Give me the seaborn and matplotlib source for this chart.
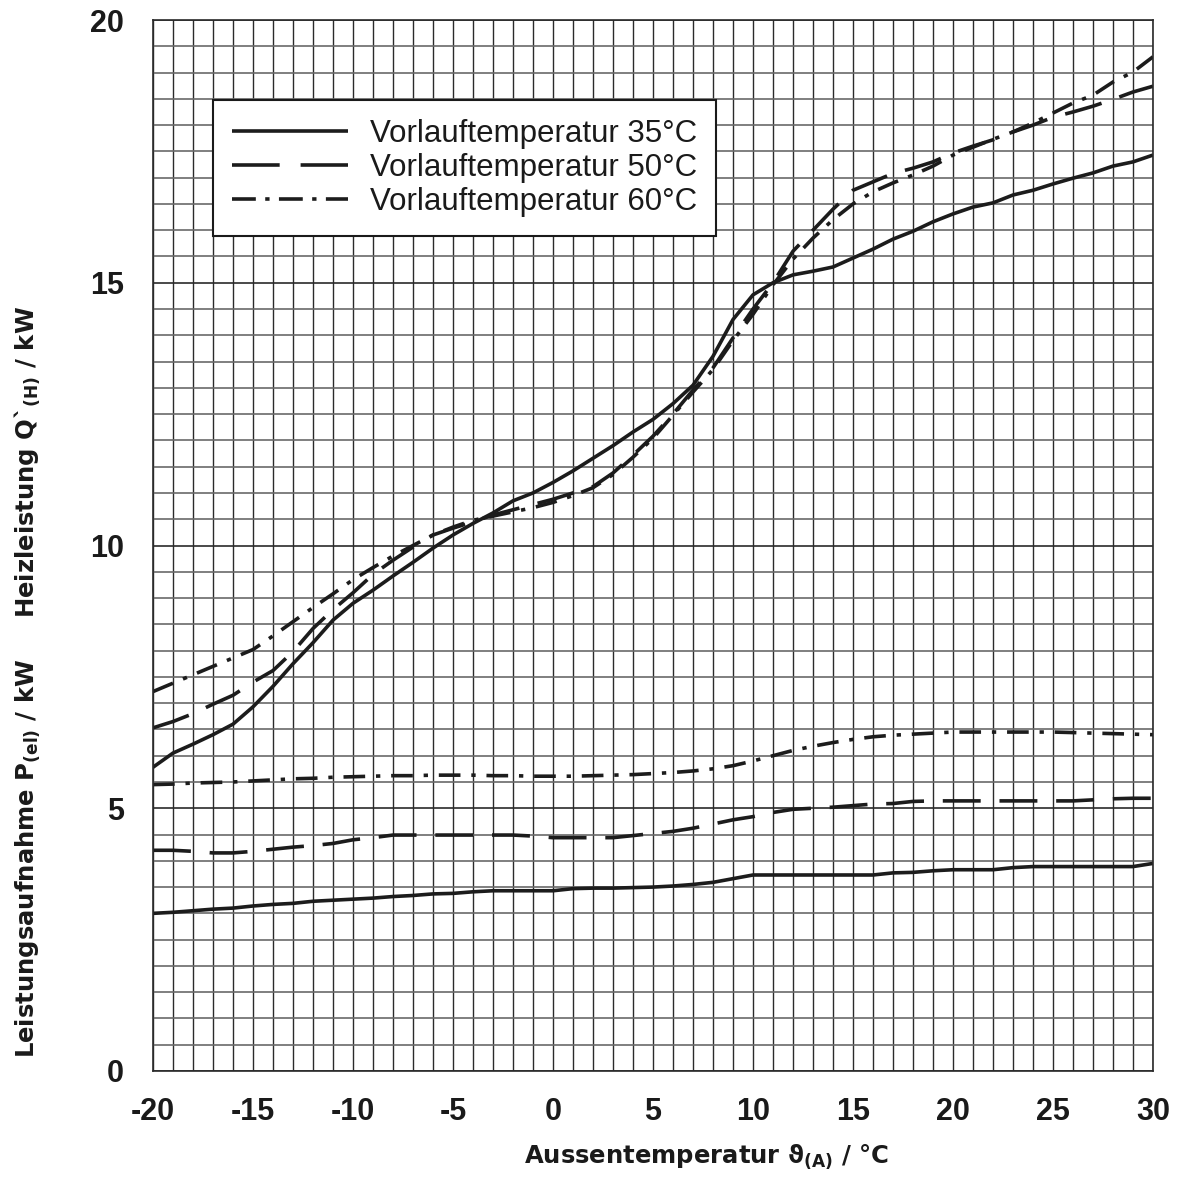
import numpy as np
import pandas as pd
import matplotlib
matplotlib.use("Agg")
import matplotlib.pyplot as plt
import seaborn as sns

# ---- data ----
temps = list(range(-20, 31))

q35 = [5.78, 6.05, 6.22, 6.40, 6.60, 6.93, 7.32, 7.75, 8.15, 8.58,
       8.90, 9.15, 9.42, 9.68, 9.95, 10.20, 10.42, 10.62, 10.85, 11.00,
       11.20, 11.42, 11.66, 11.90, 12.16, 12.40, 12.70, 13.05, 13.60, 14.30,
       14.77, 15.00, 15.15, 15.22, 15.30, 15.47, 15.64, 15.83, 15.98, 16.16,
       16.31, 16.44, 16.52, 16.67, 16.76, 16.88, 16.99, 17.09, 17.22, 17.30,
       17.43]

q50 = [6.53, 6.65, 6.80, 6.98, 7.15, 7.40, 7.62, 7.98, 8.42, 8.78,
       9.10, 9.45, 9.72, 9.97, 10.20, 10.33, 10.45, 10.58, 10.68, 10.78,
       10.88, 11.00, 11.12, 11.38, 11.72, 12.08, 12.50, 12.96, 13.38, 13.95,
       14.50, 15.00, 15.60, 16.00, 16.40, 16.76, 16.92, 17.08, 17.18, 17.30,
       17.47, 17.60, 17.72, 17.87, 18.00, 18.15, 18.25, 18.36, 18.49, 18.63,
       18.74]

q60 = [7.22, 7.38, 7.54, 7.70, 7.86, 8.02, 8.28, 8.55, 8.82, 9.08,
       9.35, 9.58, 9.80, 10.00, 10.20, 10.35, 10.48, 10.56, 10.64, 10.72,
       10.82, 10.95, 11.10, 11.35, 11.68, 12.04, 12.48, 12.92, 13.35, 13.90,
       14.40, 14.96, 15.45, 15.85, 16.20, 16.50, 16.73, 16.90, 17.05, 17.22,
       17.43, 17.58, 17.73, 17.87, 18.04, 18.23, 18.42, 18.57, 18.82, 19.01,
       19.30]

p35 = [3.00, 3.02, 3.05, 3.08, 3.10, 3.14, 3.17, 3.19, 3.23, 3.25,
       3.27, 3.29, 3.32, 3.34, 3.37, 3.38, 3.41, 3.43, 3.43, 3.43,
       3.43, 3.47, 3.48, 3.48, 3.49, 3.50, 3.52, 3.55, 3.59, 3.66,
       3.73, 3.73, 3.73, 3.73, 3.73, 3.73, 3.73, 3.77, 3.78, 3.81,
       3.83, 3.83, 3.83, 3.87, 3.89, 3.89, 3.89, 3.89, 3.89, 3.89,
       3.95]

p50 = [4.20, 4.20, 4.18, 4.15, 4.15, 4.18, 4.22, 4.26, 4.29, 4.33,
       4.40, 4.44, 4.49, 4.49, 4.49, 4.49, 4.49, 4.49, 4.49, 4.47,
       4.44, 4.44, 4.44, 4.44, 4.48, 4.52, 4.56, 4.62, 4.70, 4.78,
       4.84, 4.92, 4.98, 5.00, 5.02, 5.05, 5.08, 5.09, 5.13, 5.14,
       5.14, 5.14, 5.14, 5.14, 5.14, 5.14, 5.14, 5.16, 5.18, 5.19,
       5.19]

p60 = [5.45, 5.46, 5.48, 5.49, 5.50, 5.52, 5.54, 5.56, 5.57, 5.59,
       5.60, 5.61, 5.62, 5.62, 5.63, 5.63, 5.63, 5.62, 5.62, 5.61,
       5.61, 5.61, 5.62, 5.63, 5.64, 5.66, 5.68, 5.71, 5.75, 5.81,
       5.90, 6.00, 6.10, 6.18, 6.25, 6.31, 6.36, 6.39, 6.41, 6.43,
       6.45, 6.45, 6.45, 6.45, 6.45, 6.45, 6.44, 6.43, 6.42, 6.41,
       6.40]

legend_labels = ["Vorlauftemperatur 35°C", "Vorlauftemperatur 50°C", "Vorlauftemperatur 60°C"]
x_ticks = [-20, -15, -10, -5, 0, 5, 10, 15, 20, 25, 30]
y_ticks = [0, 5, 10, 15, 20]

# ---- figure ----
sns.set_theme(style="white")
plt.rcParams['font.family'] = ['Liberation Sans', 'DejaVu Sans']
plt.rcParams['mathtext.fontset'] = 'custom'
plt.rcParams['mathtext.rm'] = 'DejaVu Sans:bold'
plt.rcParams['mathtext.bf'] = 'DejaVu Sans:bold'
plt.rcParams['mathtext.it'] = 'DejaVu Sans:bold'
plt.rcParams['mathtext.fallback'] = 'stixsans'

fig = plt.figure(figsize=(11.81, 11.85), dpi=100)
ax = fig.add_axes([153/1181, (1185-1071)/1185, 1000/1181, 1051/1185])

# grid
ax.set_xlim(-20, 30)
ax.set_ylim(0, 20)
ax.set_xticks(np.arange(-20, 31, 1), minor=True)
ax.set_yticks(np.arange(0, 20.01, 0.5), minor=True)
ax.set_xticks(x_ticks)
ax.set_yticks(y_ticks)
ax.grid(True, which='both', axis='x', color='#2a2a2a', linewidth=1.0)
ax.grid(True, which='minor', axis='y', color='#6a6a6a', linewidth=1.2)
ax.grid(True, which='major', axis='y', color='#2a2a2a', linewidth=1.2)
ax.set_axisbelow(True)

lc = '#1c1c1c'
lw = 2.6
dash50 = (10.5, 5.2)
dashdot60 = (6.0, 3.0, 1.2, 3.0)

# Heizleistung lines
l1 = sns.lineplot(x=temps, y=q35, ax=ax, color=lc, lw=lw, label=legend_labels[0]).lines[-1]
l2 = sns.lineplot(x=temps, y=q50, ax=ax, color=lc, lw=lw, label=legend_labels[1]).lines[-1]
l2.set_dashes(dash50)
l3 = sns.lineplot(x=temps, y=q60, ax=ax, color=lc, lw=lw, label=legend_labels[2]).lines[-1]
l3.set_dashes(dashdot60)

# Leistungsaufnahme lines
sns.lineplot(x=temps, y=p35, ax=ax, color=lc, lw=lw)
m2 = sns.lineplot(x=temps, y=p50, ax=ax, color=lc, lw=lw).lines[-1]
m2.set_dashes(dash50)
m3 = sns.lineplot(x=temps, y=p60, ax=ax, color=lc, lw=lw).lines[-1]
m3.set_dashes(dashdot60)

for ln in ax.lines:
    ln.set_solid_capstyle('butt')
    ln.set_dash_capstyle('butt')

# spines / ticks
for s in ax.spines.values():
    s.set_visible(True)
    s.set_color('#2a2a2a')
    s.set_linewidth(1.2)
ax.tick_params(axis='both', which='major', direction='out', length=8, width=1.2,
               color='#2a2a2a', labelsize=22, labelcolor='#1a1a1a')
ax.tick_params(axis='x', which='major', pad=11)
ax.tick_params(axis='y', which='major', pad=13)
ax.tick_params(axis='both', which='minor', length=0)
ax.set_xticklabels([str(v) for v in x_ticks], fontweight='bold')
ax.set_yticklabels([str(v) for v in y_ticks], fontweight='bold')

# legend
leg = ax.legend(loc='upper left', bbox_to_anchor=(0.06, 0.924), borderaxespad=0,
                prop={'size': 22.5}, frameon=True, fancybox=False, framealpha=1,
                edgecolor='#1a1a1a', handlelength=3.7, handletextpad=0.7,
                labelspacing=0.12, borderpad=0.62)
leg.get_frame().set_linewidth(1.5)
for t in leg.get_texts():
    t.set_color('#1a1a1a')
leg_lines = leg.get_lines()
leg_lines[1].set_dashes((13.2, 5.8))
leg_lines[2].set_dashes((6.6, 2.6, 1.2, 2.6))

# axis labels
lab_font = dict(family=['DejaVu Sans'], fontweight='bold',
                fontsize=17.5, color='#1a1a1a')
ax.set_xlabel(r"Aussentemperatur $\vartheta_{(A)}$ / °C", **lab_font)
ax.set_ylabel(r"Leistungsaufnahme P$_{(el)}$ / kW     Heizleistung Q`$_{(H)}$ / kW", **lab_font)
ax.xaxis.set_label_coords(0.553, -0.068)
ax.yaxis.set_label_coords(-0.11, 0.37)

fig.savefig("out.png", dpi=100, facecolor='white')
